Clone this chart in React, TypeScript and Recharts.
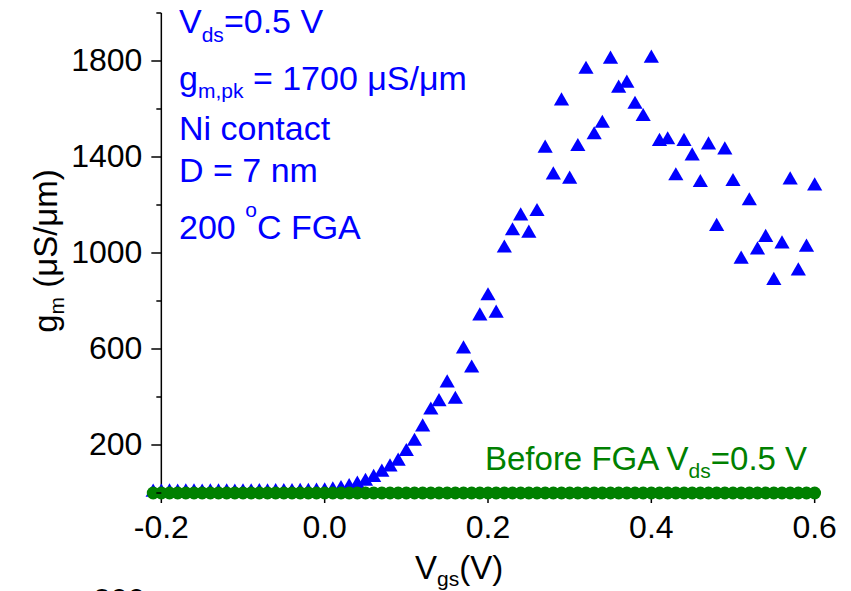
import React from "react";
import {
  ScatterChart,
  Scatter,
  XAxis,
  YAxis,
  ReferenceLine,
  Customized,
  Symbols,
} from "recharts";

// gate voltage grid (V)
const VGS = [
  -0.21, -0.2, -0.19, -0.18, -0.17, -0.16, -0.15, -0.14, -0.13, -0.12, -0.11,
  -0.1, -0.09, -0.08, -0.07, -0.06, -0.05, -0.04, -0.03, -0.02, -0.01,
  0.0, 0.01, 0.02, 0.03, 0.04, 0.05, 0.06, 0.07, 0.08, 0.09,
  0.1, 0.11, 0.12, 0.13, 0.14, 0.15, 0.16, 0.17, 0.18, 0.19,
  0.2, 0.21, 0.22, 0.23, 0.24, 0.25, 0.26, 0.27, 0.28, 0.29,
  0.3, 0.31, 0.32, 0.33, 0.34, 0.35, 0.36, 0.37, 0.38, 0.39,
  0.4, 0.41, 0.42, 0.43, 0.44, 0.45, 0.46, 0.47, 0.48, 0.49,
  0.5, 0.51, 0.52, 0.53, 0.54, 0.55, 0.56, 0.57, 0.58, 0.59, 0.6,
];

// gm after 200 C FGA (uS/um)
const GM_FGA = [
  3, 3, 4, 3, 4, 4, 3, 4, 4, 4, 3, 4, 4, 5, 4, 5, 5, 5, 6, 6, 7,
  8, 12, 18, 26, 36, 48, 64, 86, 108, 132,
  172, 215, 275, 345, 380, 458, 390, 600, 520, 737,
  821, 749, 1020, 1092, 1154, 1082, 1172, 1436, 1325, 1633,
  1307, 1443, 1765, 1492, 1540, 1807, 1686, 1707, 1619, 1568,
  1811, 1464, 1471, 1321, 1464, 1404, 1293, 1450, 1110, 1429,
  1297, 974, 1217, 1012, 1064, 885, 1037, 1304, 925, 1024, 1279,
];

// gm before FGA (uS/um)
const GM_BEFORE = [
  0, 0, 0, 0, 0, 0, 0, 0, 0, 0, 0, 0, 0, 0, 0, 0, 0, 0, 0, 0, 0,
  0, 0, 0, 0, 0, 0, 0, 0, 0, 0,
  0, 0, 0, 0, 0, 0, 0, 0, 0, 0,
  0, 0, 0, 0, 0, 0, 0, 0, 0, 0,
  0, 0, 0, 0, 0, 0, 0, 0, 0, 0,
  0, 0, 0, 0, 0, 0, 0, 0, 0, 0,
  0, 0, 0, 0, 0, 0, 0, 0, 0, 0, 0,
];

const X_TICKS = [-0.2, 0, 0.2, 0.4, 0.6];
const Y_TICKS = [0, 200, 400, 600, 800, 1000, 1200, 1400, 1600, 1800, 2000];
const Y_LABELED = [200, 600, 1000, 1400, 1800];

const X_MIN = -0.22;
const X_MAX = 0.62;
const Y_AXIS_AT = -0.2;

const W = 851;
const H = 591;
const Y_AXIS_W = 145;
const MARGIN = { top: 13, right: 20, bottom: 0, left: 0 };
const PLOT_W = W - Y_AXIS_W - MARGIN.left - MARGIN.right;
// the y axis sits at Vgs = -0.2, a bit right of the plot's left edge
const AXIS_SHIFT = ((Y_AXIS_AT - X_MIN) / (X_MAX - X_MIN)) * PLOT_W;

const FONT = "'Liberation Sans', Arial, sans-serif";
const BLUE = "#0000ff";
const GREEN = "#008000";

const fgaData = VGS.map((v, i) => ({ vgs: v, gm: GM_FGA[i] }));
const beforeData = VGS.map((v, i) => ({ vgs: v, gm: GM_BEFORE[i] }));

const Triangle = (p: any) => (
  <Symbols type="triangle" size={100} cx={p.cx} cy={p.cy} fill={BLUE} />
);
const Dot = (p: any) => <circle cx={p.cx} cy={p.cy} r={6.4} fill={GREEN} />;

const YTick = (props: any) => {
  const { x, y, payload } = props;
  const ax = x + AXIS_SHIFT;
  const major = Y_LABELED.includes(payload.value);
  return (
    <g>
      <line x1={ax - (major ? 10 : 5)} x2={ax} y1={y} y2={y} stroke="#000" strokeWidth={1.5} />
      {major && (
        <text
          x={ax - 19}
          y={y}
          dy={10}
          textAnchor="end"
          fontSize={32}
          fontFamily={FONT}
          fill="#000"
        >
          {payload.value}
        </text>
      )}
    </g>
  );
};

const Labels = () => (
  <g fontFamily={FONT}>
    <g fill={BLUE} fontSize={34}>
      <text x={179} y={33}>
        V<tspan fontSize={21} dy={9}>ds</tspan>
        <tspan dy={-9}>=0.5 V</tspan>
      </text>
      <text x={179} y={90}>
        g<tspan fontSize={21} dy={8}>m,pk</tspan>
        <tspan dy={-8}> = 1700 μS/μm</tspan>
      </text>
      <text x={179} y={140}>Ni contact</text>
      <text x={179} y={182}>D = 7 nm</text>
      <text x={179} y={239}>
        200 <tspan fontSize={21} dy={-22}>o</tspan>
        <tspan dy={22}>C FGA</tspan>
      </text>
    </g>
    <text x={485} y={470} fill={GREEN} fontSize={33}>
      Before FGA V<tspan fontSize={21} dy={8}>ds</tspan>
      <tspan dy={-8}>=0.5 V</tspan>
    </text>
    <text x={415} y={579} fill="#000" fontSize={33}>
      V<tspan fontSize={21} dy={7}>gs</tspan>
      <tspan dy={-7}>(V)</tspan>
    </text>
    <text
      x={57}
      y={251}
      transform="rotate(-90 57 251)"
      textAnchor="middle"
      fill="#000"
      fontSize={33}
    >
      g<tspan fontSize={21} dy={7}>m</tspan>
      <tspan dy={-7}> (μS/μm)</tspan>
    </text>
    <text x={145} y={611} textAnchor="end" fill="#000" fontSize={31}>
      200
    </text>
  </g>
);

export default function App() {
  return (
    <div style={{ position: "absolute", left: 0, top: 0, width: W, height: H, background: "#fff" }}>
      <ScatterChart width={W} height={H} margin={MARGIN}>
        <XAxis
          type="number"
          dataKey="vgs"
          domain={[X_MIN, X_MAX]}
          ticks={X_TICKS}
          interval={0}
          height={98}
          axisLine={false}
          tickLine={{ stroke: "#000", strokeWidth: 1.5 }}
          tickSize={10}
          tickMargin={12}
          tickFormatter={(v: number) => v.toFixed(1)}
          tick={{ fill: "#000", fontSize: 32, fontFamily: FONT }}
        />
        <YAxis
          type="number"
          dataKey="gm"
          domain={[0, 2000]}
          ticks={Y_TICKS}
          interval={0}
          width={Y_AXIS_W}
          axisLine={false}
          tickLine={false}
          tickSize={0}
          tickMargin={0}
          tick={YTick}
        />
        <ReferenceLine x={Y_AXIS_AT} stroke="#000" strokeWidth={1.5} />
        <Scatter data={fgaData} shape={Triangle} isAnimationActive={false} />
        <Scatter data={beforeData} shape={Dot} isAnimationActive={false} />
        <Customized component={Labels} />
      </ScatterChart>
    </div>
  );
}
